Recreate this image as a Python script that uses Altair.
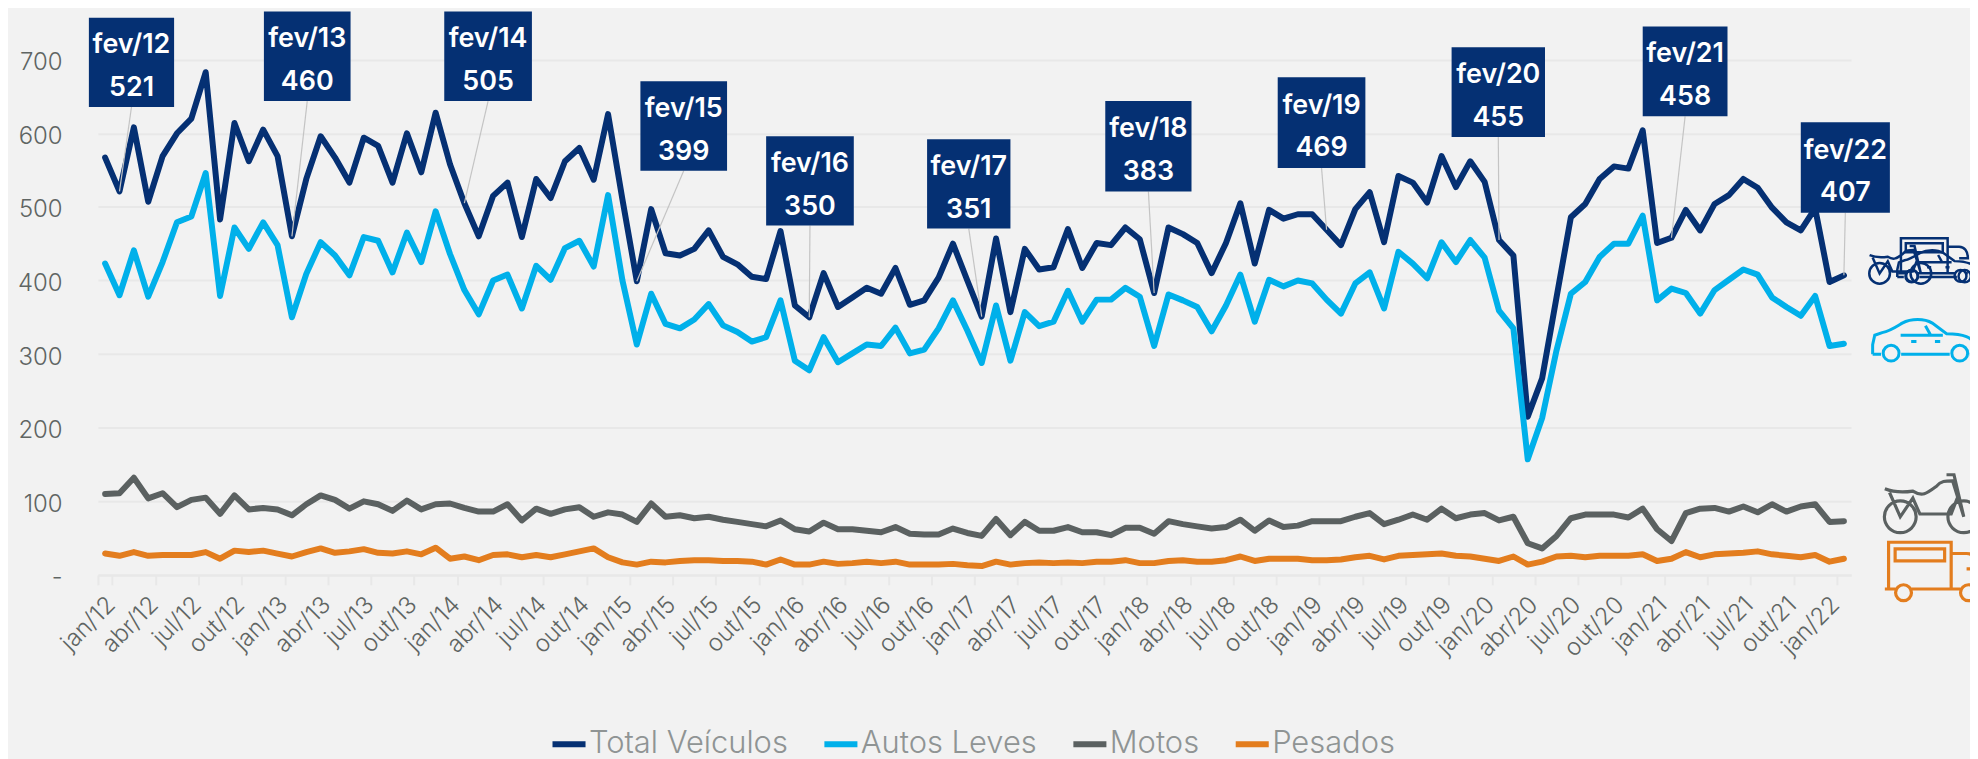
import altair as alt
import pandas as pd

month_names = ["jan","fev","mar","abr","mai","jun","jul","ago","set","out","nov","dez"]
months = [f"{month_names[i % 12]}/{12 + i // 12}" for i in range(122)]

total = [567,521,608,507,569,600,620,683,483,614,562,605,569,460,538,596,567,533,594,583,533,600,547,628,558,505,460,515,533,459,538,512,562,580,537,626,510,399,497,437,434,443,468,432,422,405,402,467,366,350,410,364,377,390,382,417,367,373,404,450,400,351,457,357,443,415,418,470,417,451,448,472,456,383,472,463,451,410,451,505,423,496,484,490,490,469,448,497,520,452,542,533,506,569,527,562,534,455,434,215,267,377,486,504,538,555,552,604,451,458,496,468,504,516,538,526,499,479,468,498,398,407]
autos = [423,380,441,378,425,479,487,546,379,472,443,479,448,350,409,452,434,407,459,454,411,465,425,494,436,387,354,400,408,362,420,401,444,454,419,516,400,313,382,341,335,347,368,339,330,317,323,373,291,278,323,289,301,313,311,336,301,306,335,373,332,288,366,291,357,338,344,386,344,374,374,390,378,311,381,373,364,331,366,408,344,401,392,400,396,374,355,396,411,362,439,423,403,452,425,455,431,359,335,157,213,305,382,398,432,450,450,488,373,389,383,355,387,401,415,408,377,364,352,379,311,314]
motos = [110,111,132,104,111,92,102,105,83,108,89,91,89,81,96,108,102,90,100,96,87,101,89,96,97,91,86,86,96,74,90,83,89,92,79,85,82,72,97,79,81,77,79,75,72,69,66,74,62,59,71,62,62,60,58,65,56,55,55,63,57,53,76,54,72,60,60,65,58,58,54,64,64,56,73,69,66,63,65,75,60,74,65,67,73,73,73,79,84,69,75,82,75,90,77,82,84,74,79,43,36,53,77,82,82,82,78,90,62,46,84,90,91,86,93,85,96,86,93,96,72,73]
pesados = [29,26,31,26,27,27,27,31,22,33,31,33,29,25,31,36,30,32,35,30,29,32,28,37,22,25,20,27,28,24,27,24,28,32,36,24,17,14,18,17,19,20,20,19,19,18,14,21,14,14,18,15,16,18,16,18,14,14,14,15,13,12,18,14,16,17,16,17,16,18,18,20,16,16,19,20,18,18,20,25,19,22,22,22,20,20,21,24,26,21,26,27,28,29,26,25,22,19,25,14,18,25,26,24,26,26,26,28,19,22,31,24,28,29,30,32,28,26,24,27,18,22]

series_names = ["Total Veículos", "Autos Leves", "Motos", "Pesados"]
series_values = [total, autos, motos, pesados]
series_colors = ["#053073", "#00b0ea", "#5b6161", "#e37d1e"]

tick_labels = months[::3]
y_ticks = [0, 100, 200, 300, 400, 500, 600, 700]

call_label = ["fev/12","fev/13","fev/14","fev/15","fev/16","fev/17","fev/18","fev/19","fev/20","fev/21","fev/22"]
call_value = [521,460,505,399,350,351,383,469,455,458,407]
call_month = [1.5,13.5,25.5,37.5,49.5,61.5,73.5,85.5,97.5,109.5,121.5]
call_left = [-0.63,11.55,24.1,37.75,46.5,57.7,70.1,82.1,94.2,107.5,118.5]
call_right = [5.3,17.58,30.2,43.78,52.6,63.5,76.1,88.2,100.7,113.4,124.7]
call_top = [757,765.5,765.5,670.8,596,592,643.7,676,716.8,745,615]
call_bottom = [635.7,643.7,643.7,549,474.6,470.5,521,553,595,623,492]

FONT = "Inter"
BG = "#f2f2f2"

rows = []
for name, vals in zip(series_names, series_values):
    for m, v in zip(months, vals):
        rows.append({"mes": m, "valor": v, "serie": name})
df = pd.DataFrame(rows)

calls = pd.DataFrame({
    "label": call_label, "value": call_value, "month": call_month,
    "left": call_left, "right": call_right, "top": call_top, "bottom": call_bottom,
})
calls["center"] = (calls["left"] + calls["right"]) / 2
calls["mid"] = (calls["top"] + calls["bottom"]) / 2

x_band = alt.X("mes:N", sort=months, title=None,
    scale=alt.Scale(paddingInner=0, paddingOuter=0),
    axis=alt.Axis(values=tick_labels, labelAngle=-45, labelAlign="right", labelBaseline="middle",
                  labelFont=FONT, labelFontSize=24, labelFontWeight=300, labelColor="#5f6563",
                  labelPadding=16, labelOffset=6, labelOverlap=False, labelBound=False, labelFlush=False,
                  tickColor="#e8e8e8", tickWidth=2, tickSize=10, tickBand="extent",
                  domainColor="#e8e8e8", domainWidth=2, grid=False))
y_scale = alt.Scale(domain=[0, 764.5], nice=False)
y_val = alt.Y("valor:Q", title=None, scale=y_scale,
    axis=alt.Axis(values=y_ticks, labelExpr="datum.value === 0 ? '-\u00a0\u00a0\u00a0' : datum.value",
                  labelFont=FONT, labelFontSize=24, labelFontWeight=300, labelColor="#5f6563",
                  labelPadding=36, labelOffset=3, ticks=False, domain=False,
                  grid=True, gridColor="#e8e8e8", gridWidth=2))

lines = alt.Chart(df).mark_line(strokeWidth=6, strokeCap="round", strokeJoin="round", clip=False).encode(
    x=x_band, y=y_val,
    color=alt.Color("serie:N", sort=series_names,
        scale=alt.Scale(domain=series_names, range=series_colors),
        legend=alt.Legend(title=None, orient="none", legendX=453, legendY=715, direction="horizontal",
            symbolType="stroke", symbolSize=1100, symbolStrokeWidth=6, labelOffset=0, columnPadding=24,
            labelLimit=400, labelFont=FONT, labelFontSize=31, labelFontWeight=300, labelColor="#8f9494", columns=4)),
)

q_scale = alt.Scale(domain=[0, 122], nice=False, zero=False)
ann = alt.Chart(calls)
leader = ann.mark_rule(color="#c4c4c4", strokeWidth=1.2, clip=False).encode(
    x=alt.X("center:Q", axis=None, title=None, scale=q_scale),
    x2="month:Q", y=alt.Y("bottom:Q", title=None, scale=y_scale), y2="value:Q")
boxes = ann.mark_rect(color="#053073", clip=False).encode(
    x=alt.X("left:Q", axis=None, title=None, scale=q_scale), x2="right:Q",
    y=alt.Y("top:Q", title=None, scale=y_scale), y2="bottom:Q")
txt1 = ann.mark_text(font=FONT, fontSize=27, fontWeight=600, color="white", dy=-17).encode(
    x=alt.X("center:Q", axis=None, title=None, scale=q_scale),
    y=alt.Y("mid:Q", title=None, scale=y_scale), text="label:N")
txt2 = ann.mark_text(font=FONT, fontSize=27, fontWeight=600, color="white", dy=26).encode(
    x=alt.X("center:Q", axis=None, title=None, scale=q_scale),
    y=alt.Y("mid:Q", title=None, scale=y_scale), text="value:Q")

CAR = ("M-0.98 0.24L-0.98 0.06L-0.94 -0.12L-0.8 -0.17C-0.65 -0.2 -0.55 -0.27 -0.42 -0.35C-0.25 -0.44 0 -0.44 0.15 -0.35"
       "L0.42 -0.15C0.7 -0.15 0.95 -0.1 1 0.15L0.98 0.24L0.86 0.24M0.48 0.24L-0.44 0.24M-0.82 0.24L-0.98 0.24"
       "M-0.78 0.22a0.15 0.15 0 1 0 0.3 0a0.15 0.15 0 1 0 -0.3 0"
       "M0.52 0.22a0.15 0.15 0 1 0 0.3 0a0.15 0.15 0 1 0 -0.3 0"
       "M-0.45 -0.12L0.35 -0.12M0.02 -0.3L0.12 -0.12M-0.25 0L-0.15 0M0.2 0L0.3 0")
MOTO = ("M-1 -0.3C-0.8 -0.22 -0.6 -0.22 -0.4 -0.25C-0.2 -0.12 -0.1 -0.2 0.1 -0.35C0.2 -0.47 0.3 -0.47 0.45 -0.47L0.69 0.3"
        "M0.32 -0.6L0.48 -0.6L0.69 0.3M-0.9 -0.22L-0.67 0.3L-0.4 -0.1L-0.25 0.24L0.42 0.24L0.55 -0.1"
        "M-1.01 0.3a0.34 0.34 0 1 0 0.68 0a0.34 0.34 0 1 0 -0.68 0"
        "M0.35 0.3a0.34 0.34 0 1 0 0.68 0a0.34 0.34 0 1 0 -0.68 0")
TRUCK = ("M-0.92 0.36L-0.92 -0.62L0.42 -0.62L0.42 0.36M-1 0.38L-0.77 0.38M-0.43 0.38L0.62 0.38M0.96 0.38L1 0.38"
         "M-0.77 0.46a0.17 0.17 0 1 0 0.34 0a0.17 0.17 0 1 0 -0.34 0"
         "M0.62 0.46a0.17 0.17 0 1 0 0.34 0a0.17 0.17 0 1 0 -0.34 0"
         "M0.42 -0.38L0.75 -0.38C0.9 -0.38 1 -0.25 1 -0.05L0.75 -0.05"
         "M-0.78 -0.48L0.28 -0.48L0.28 -0.22L-0.78 -0.22Z")

def icon(path, color, idx, val, size, sw):
    d = pd.DataFrame({"i": [idx], "v": [val]})
    return alt.Chart(d).mark_point(shape=path, filled=False, stroke=color, strokeWidth=sw, size=size,
                                   opacity=1, clip=False).encode(
        x=alt.X("i:Q", axis=None, title=None, scale=q_scale),
        y=alt.Y("v:Q", title=None, scale=y_scale))

icons = [
    icon(CAR, "#00b0ea", 127.1, 317, 11236, 3),
    icon(MOTO, "#5b6161", 127.6, 98, 8800, 3.2),
    icon(TRUCK, "#e37d1e", 127.6, 5, 8800, 3.2),
    icon(TRUCK, "#053073", 127.7, 428, 4900, 2.5),
    icon(MOTO, "#053073", 125.4, 422, 3721, 2.5),
    icon(CAR, "#053073", 128.0, 418, 6724, 2.5),
]

chart = alt.layer(lines, leader, boxes, txt1, txt2, *icons).resolve_scale(x="independent").properties(
    width=1760.3, height=565, background=BG,
    padding={"left": 90.3, "top": 2.7, "right": 119.4, "bottom": 183},
    autosize=alt.AutoSizeParams(type="none"),
).configure_view(stroke=None)

chart.save("out.html", embed_options={"renderer": "svg", "actions": False})
